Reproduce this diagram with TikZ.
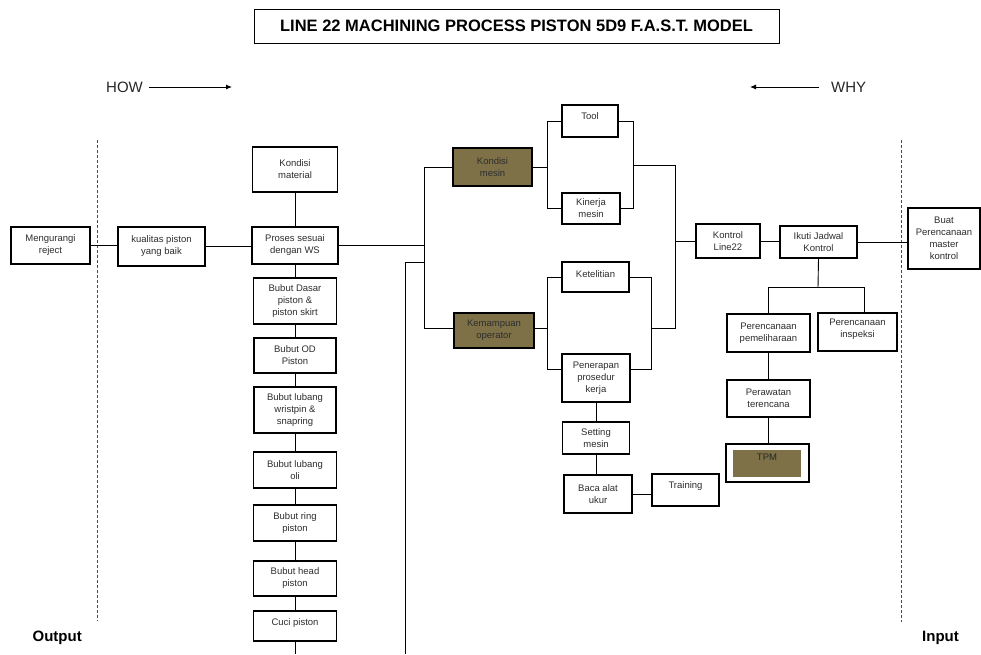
\documentclass[tikz,border=0pt]{standalone}
\usepackage{fontspec}
\setmainfont{Liberation Sans}
\usetikzlibrary{arrows.meta}
\definecolor{olivefill}{RGB}{126,113,72}
\definecolor{boxtext}{RGB}{45,45,45}
\tikzset{
  bx/.style={draw=black, line width=1.2pt, fill=white, inner sep=1pt,
    align=center, text=boxtext, font=\fontsize{9.5}{12}\selectfont},
  hl/.style={bx, fill=olivefill},
  wire/.style={draw=black, line width=0.9pt},
  guide/.style={draw=black!70, line width=0.7pt, dash pattern=on 3pt off 2pt},
  dirarrow/.style={draw=black, line width=0.9pt, -{Latex[length=6pt,width=5pt]}},
  bigtxt/.style={font=\fontsize{15}{18}\selectfont, text=black!85}
}
\begin{document}
\begin{tikzpicture}[x=1pt,y=-1pt]
\useasboundingbox (0,0) rectangle (981,654);

% title and direction labels
\node[draw=black, line width=0.8pt, minimum width=525pt, minimum height=34pt,
      font=\bfseries\fontsize{16.5}{19}\selectfont] (title) at (516.5,26) {LINE 22 MACHINING PROCESS PISTON 5D9 F.A.S.T. MODEL};
\node[bigtxt, anchor=west, inner sep=0pt] (how) at (106,87) {HOW};
\coordinate (howend) at (232,87);
\draw[dirarrow] (how.east) ++(6,0) coordinate (howstart) -- (howend);
\node[bigtxt, anchor=west, inner sep=0pt] (why) at (831,87) {WHY};
\coordinate (whyend) at (750,87);
\draw[dirarrow] ([xshift=-12pt]why.west) -- (whyend);

\node[font=\bfseries\fontsize{15}{18}\selectfont, anchor=east, inner sep=0pt] (outp) at (82,638) {Output};
\node[font=\bfseries\fontsize{15}{18}\selectfont, anchor=west, inner sep=0pt] (inp) at (922,638) {Input};

% scope boundaries
\coordinate (dl1) at (97,140); \coordinate (dl2) at (97,621);
\coordinate (dr1) at (901,140); \coordinate (dr2) at (901,622);
\draw[guide] (dl1) -- (dl2);
\draw[guide] (dr1) -- (dr2);

% left side
\node[bx, minimum width=79pt, minimum height=37pt] (reject) at (50.5,245.5) {Mengurangi\\reject};
\node[bx, minimum width=87pt, minimum height=39pt] (kual) at (161.5,246.5) {kualitas piston\\yang baik};

% process column
\node[bx, minimum width=85pt, minimum height=45pt] (kmat) at (295,169.5) {Kondisi\\material};
\node[bx, minimum width=86pt, minimum height=37pt] (proses) at (295,245.5) {Proses sesuai\\dengan WS};
\node[bx, minimum width=83pt, minimum height=46pt] (dasar) at (295,301) {Bubut Dasar\\piston \&\\piston skirt};
\node[bx, minimum width=82pt, minimum height=35pt] (od) at (295,355.5) {Bubut OD\\Piston};
\node[bx, minimum width=82pt, minimum height=46pt] (wrist) at (295,410) {Bubut lubang\\wristpin \&\\snapring};
\node[bx, minimum width=83pt, minimum height=36pt] (oli) at (295,470) {Bubut lubang\\oli};
\node[bx, minimum width=83pt, minimum height=36pt] (ring) at (295,523) {Bubut ring\\piston};
\node[bx, minimum width=83pt, minimum height=35pt] (head) at (295,578.5) {Bubut head\\piston};
\node[bx, minimum width=83pt, minimum height=30pt, text depth=7pt] (cuci) at (295,626) {Cuci piston};
\coordinate (colend) at (295,654);

% machine / operator branch
\node[hl, minimum width=79pt, minimum height=38pt] (kmesin) at (492.5,167) {Kondisi\\mesin};
\node[hl, minimum width=80pt, minimum height=35pt] (kemamp) at (494,330.5) {Kemampuan\\operator};
\node[bx, minimum width=56pt, minimum height=32pt, text depth=9pt] (tool) at (590,121) {Tool};
\node[bx, minimum width=58pt, minimum height=31pt] (kinerja) at (591,208.5) {Kinerja\\mesin};
\node[bx, minimum width=67pt, minimum height=30pt, text depth=6pt] (ketel) at (595.5,277) {Ketelitian};
\node[bx, minimum width=68pt, minimum height=48pt] (pener) at (596,378) {Penerapan\\prosedur\\kerja};
\node[bx, minimum width=67pt, minimum height=32pt] (setting) at (596,438) {Setting\\mesin};
\node[bx, minimum width=68pt, minimum height=38pt] (baca) at (598,494) {Baca alat\\ukur};
\node[bx, minimum width=67pt, minimum height=32pt, text depth=9pt] (train) at (685.5,490) {Training};

% control branch
\node[bx, minimum width=64pt, minimum height=34pt] (kline) at (728,241) {Kontrol\\Line22};
\node[bx, minimum width=77pt, minimum height=32pt] (ikuti) at (818.5,242) {Ikuti Jadwal\\Kontrol};
\node[bx, minimum width=72pt, minimum height=61pt] (buat) at (944,238.5) {Buat\\Perencanaan\\master\\kontrol};
\node[bx, minimum width=83pt, minimum height=38pt] (ppem) at (768.5,333) {Perencanaan\\pemeliharaan};
\node[bx, minimum width=79pt, minimum height=38pt, text depth=7pt] (pins) at (857.5,332) {Perencanaan\\inspeksi};
\node[bx, minimum width=83pt, minimum height=37pt] (prw) at (768.5,398.5) {Perawatan\\terencana};
\node[bx, minimum width=83pt, minimum height=38pt] (tpm) at (767.5,463) {};
\node[fill=olivefill, minimum width=68pt, minimum height=27pt, inner sep=0pt,
      font=\fontsize{9.5}{12}\selectfont, text=black!85, text depth=12pt] (tpmin) at (767,463.5) {TPM};

% connectors: left side and column
\draw[wire] (reject.east) -- (reject.east -| kual.west);
\draw[wire] (kual.east) -- (kual.east -| proses.west);
\draw[wire] (kmat.south) -- (proses.north);
\draw[wire] (proses.south) -- (dasar.north);
\draw[wire] (dasar.south) -- (od.north);
\draw[wire] (od.south) -- (wrist.north);
\draw[wire] (wrist.south) -- (oli.north);
\draw[wire] (oli.south) -- (ring.north);
\draw[wire] (ring.south) -- (head.north);
\draw[wire] (head.south) -- (cuci.north);
\draw[wire] (cuci.south) -- (colend);

% connectors: main fork
\coordinate (fork) at (424,0);
\draw[wire] (kmesin.west) -- (kmesin.west -| fork) -- ([yshift=2pt]kemamp.west -| fork) -- ([yshift=2pt]kemamp.west);
\draw[wire] (proses.east) -- (proses.east -| fork);
\coordinate (side1) at (405,262);
\coordinate (side2) at (405,654);
\draw[wire] (side2) -- (side1) -- (side1 -| fork);

% connectors: machine condition
\coordinate (mfork) at (547,0);
\coordinate (mjoin) at (633,0);
\draw[wire] (kmesin.east) -- (kmesin.east -| mfork);
\draw[wire] (tool.west) -- (tool.west -| mfork) -- (kinerja.west -| mfork) -- (kinerja.west);
\draw[wire] (tool.east) -- (tool.east -| mjoin) -- (kinerja.east -| mjoin) -- (kinerja.east);
\coordinate (cfork) at (675,0);
\coordinate (mj) at (633,165);
\draw[wire] (mj) -- (mj -| cfork) -- ([yshift=2pt]kemamp.east -| cfork);
\draw[wire] (kline.west -| cfork) -- (kline.west);

% connectors: operator ability
\coordinate (ojoin) at (651,0);
\draw[wire] ([yshift=2pt]kemamp.east) -- ([yshift=2pt]kemamp.east -| mfork);
\draw[wire] (ketel.west) -- (ketel.west -| mfork) -- ([yshift=9pt]pener.west -| mfork) -- ([yshift=9pt]pener.west);
\draw[wire] (ketel.east) -- (ketel.east -| ojoin) -- ([yshift=9pt]pener.east -| ojoin) -- ([yshift=9pt]pener.east);
\draw[wire] ([yshift=2pt]kemamp.east -| ojoin) -- ([yshift=2pt]kemamp.east -| cfork);
\draw[wire] (pener.south) -- (pener.south |- setting.north);
\draw[wire] (setting.south) -- (setting.south |- baca.north);
\draw[wire] (baca.east) -- (baca.east -| train.west);

% connectors: control
\draw[wire] (kline.east) -- (kline.east -| ikuti.west);
\draw[wire] (ikuti.east) -- (ikuti.east -| buat.west);
\coordinate (pfork) at (818,287);
\draw[wire] (ikuti.south) -- (pfork);
\draw[wire] (ppem.north) -- (ppem.north |- pfork) -- (pfork);
\draw[wire] (pfork) -- ([xshift=6.5pt]pins.north |- pfork) -- ([xshift=6.5pt]pins.north);
\draw[wire] (ppem.south) -- (prw.north);
\draw[wire] (prw.south) -- (prw.south |- tpm.north);
\end{tikzpicture}
\end{document}
